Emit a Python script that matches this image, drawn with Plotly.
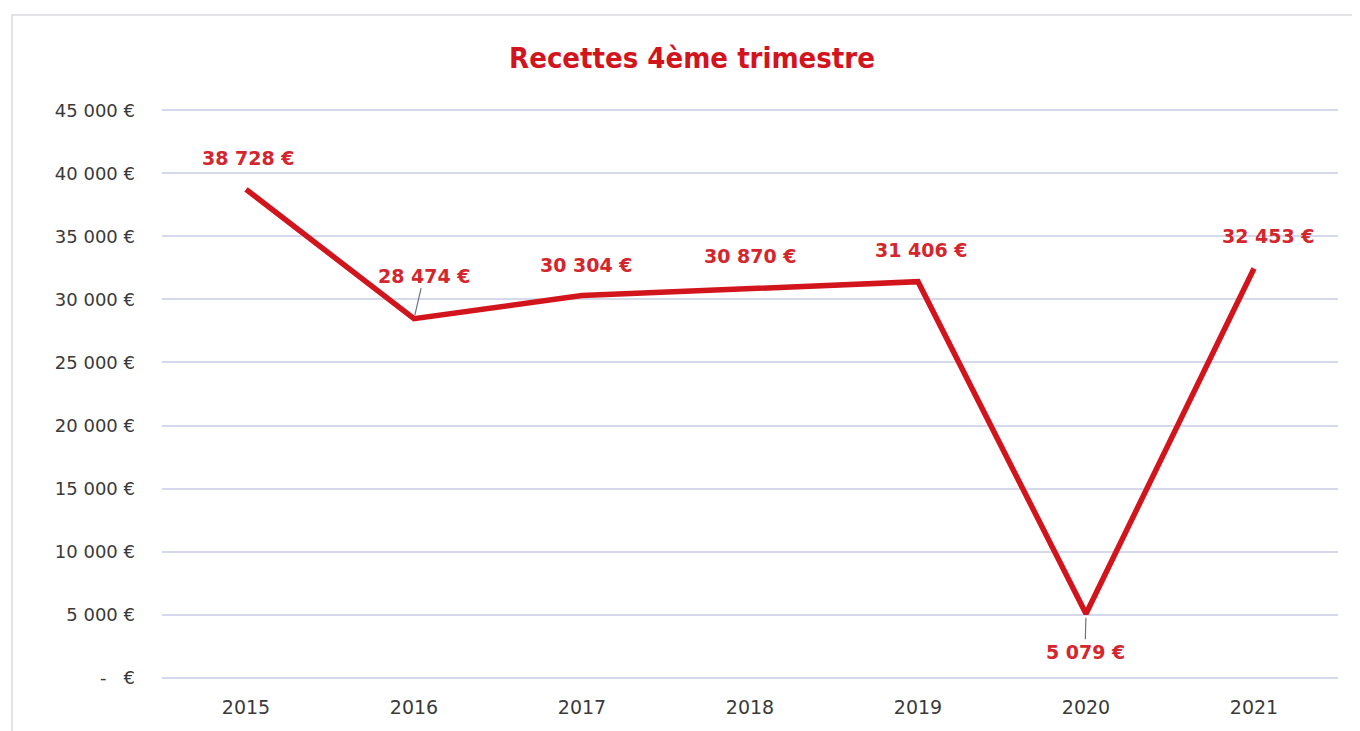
import plotly.graph_objects as go

# data
years = ["2015", "2016", "2017", "2018", "2019", "2020", "2021"]
recettes = [38728, 28474, 30304, 30870, 31406, 5079, 32453]
labels = ["38 728 €", "28 474 €", "30 304 €", "30 870 €", "31 406 €", "5 079 €", "32 453 €"]
tick_vals = [0, 5000, 10000, 15000, 20000, 25000, 30000, 35000, 40000, 45000]
tick_text = ["-   €", "5 000 €", "10 000 €", "15 000 €", "20 000 €", "25 000 €",
             "30 000 €", "35 000 €", "40 000 €", "45 000 €"]

RED = "#d2151d"
LABEL_RED = "#d4262d"
W, H = 1352, 723  # page body has an 8px margin
L, R, T, B = 154, 22, 100, 51
PW, PH = W - L - R, H - T - B

fig = go.Figure()
fig.add_trace(go.Scatter(x=years, y=recettes, mode="lines",
                         line=dict(color=RED, width=5.5),
                         showlegend=False, hoverinfo="skip"))

# label offsets (pixels) relative to each point; True = leader line
offsets = [(2, 31, False), (10, 43, True), (4, 31, False), (0, 32, False),
           (3, 32, False), (-1, -38, True), (14, 32, False)]
lab_font = dict(color=LABEL_RED, size=19, family="DejaVu Sans, sans-serif")
for i, (val, lab, (dx, dy, arrow)) in enumerate(zip(recettes, labels, offsets)):
    if arrow:
        fig.add_annotation(x=i, y=val, xref="x", yref="y", text="<b>" + lab + "</b>",
                           showarrow=True, ax=dx, ay=-dy, arrowhead=0, arrowwidth=1.2,
                           arrowcolor="#6b7480", standoff=4, font=lab_font)
    else:
        fig.add_annotation(x=i, y=val, xref="x", yref="y", text="<b>" + lab + "</b>",
                           showarrow=False, xshift=dx, yshift=dy, font=lab_font)

# light frame around the chart (scan border)
fig.add_shape(type="rect", xref="paper", yref="paper",
              x0=(4 - L) / PW, x1=(1400 - L) / PW,
              y0=-0.3, y1=(H - B - 7) / PH,
              line=dict(color="#d8dade", width=1.5))

fig.update_layout(
    width=W, height=H,
    margin=dict(l=L, r=R, t=T, b=B),
    paper_bgcolor="white", plot_bgcolor="white",
    title=dict(text="<b>Recettes 4ème trimestre</b>", x=684 / W, xanchor="center",
               y=1 - 50 / H, yanchor="middle",
               font=dict(color=RED, size=29, family="DejaVu Sans Condensed, sans-serif")),
)
fig.update_xaxes(type="category", showgrid=False, showline=False, zeroline=False, ticks="",
                 range=[-0.5, 6.5], ticklabelstandoff=14,
                 tickfont=dict(color="#3a3a3a", size=19, family="DejaVu Sans, sans-serif"))
fig.update_yaxes(range=[-180, 45180], tickvals=tick_vals, ticktext=tick_text,
                 showgrid=True, gridcolor="#d6d8ec", gridwidth=1.5,
                 zeroline=False, showline=False, ticks="", ticklabelstandoff=26,
                 tickfont=dict(color="#3a3a3a", size=18, family="DejaVu Sans, sans-serif"))

fig.write_html("out.html")
